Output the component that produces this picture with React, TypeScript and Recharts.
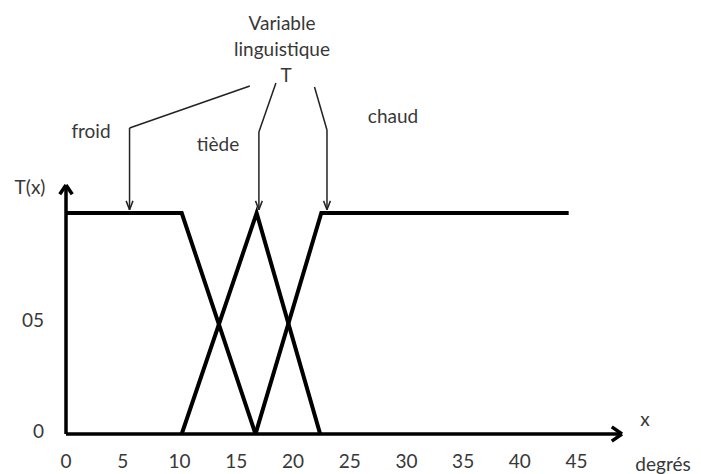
import { LineChart, Line, XAxis, YAxis, ReferenceLine } from 'recharts'

// membership functions (x in degrés, y = T(x))
const froid = [{ x: 0, y: 1 }, { x: 10.2, y: 1 }, { x: 16.7, y: 0 }]
const tiede = [{ x: 10.2, y: 0 }, { x: 16.8, y: 1 }, { x: 22.4, y: 0 }]
const chaud = [{ x: 16.7, y: 0 }, { x: 22.5, y: 1 }, { x: 44.3, y: 1 }]

const X_TICKS = [0, 5, 10, 15, 20, 25, 30, 35, 40, 45]
const X_LABELS = ['0', '5', '10', '15', '20', '25', '30', '35', '40', '45']
const Y_TICKS = [0, 0.5]
const Y_LABELS = ['0', '05']

// leader arrows from "Variable linguistique T" to each term (data units)
const LEADERS = [
  [{ x: 16.2, y: 1.575 }, { x: 5.6, y: 1.385 }, { x: 5.6, y: 1.015 }],
  [{ x: 18.5, y: 1.588 }, { x: 17.0, y: 1.367 }, { x: 17.0, y: 1.015 }],
  [{ x: 21.9, y: 1.57 }, { x: 23.0, y: 1.376 }, { x: 23.0, y: 1.015 }],
]

const FONT = 'Lato, "Open Sans", sans-serif'
const TXT = '#383838'

type P = { x: number; y: number }

function segs(pts: P[]) {
  const out: [P, P][] = []
  for (let i = 0; i < pts.length - 1; i++) out.push([pts[i], pts[i + 1]])
  const tip = pts[pts.length - 1]
  out.push([{ x: tip.x - 0.3, y: tip.y + 0.04 }, tip])
  out.push([{ x: tip.x + 0.3, y: tip.y + 0.04 }, tip])
  return out
}

const axisArrows: [P, P][] = [
  [{ x: 0, y: 0 }, { x: 0, y: 1.127 }],
  [{ x: -0.55, y: 1.085 }, { x: 0, y: 1.127 }],
  [{ x: 0.55, y: 1.085 }, { x: 0, y: 1.127 }],
  [{ x: 48.1, y: 0.032 }, { x: 49, y: 0 }],
  [{ x: 48.1, y: -0.032 }, { x: 49, y: 0 }],
]

const labels: { t: string; x: number; y: number }[] = [
  { t: 'Variable', x: 282, y: 22 },
  { t: 'linguistique', x: 282, y: 48 },
  { t: 'T', x: 286, y: 74 },
  { t: 'froid', x: 91, y: 130 },
  { t: 'tiède', x: 218, y: 143 },
  { t: 'chaud', x: 393, y: 115 },
  { t: 'T(x)', x: 30, y: 186 },
  { t: 'x', x: 645, y: 418 },
  { t: 'degrés', x: 663, y: 463 },
]

export default function App() {
  const tickStyle = { fill: TXT, fontSize: 19, fontFamily: FONT }
  return (
    <div style={{ position: 'absolute', left: 0, top: 0, width: 701, height: 474, background: '#fff' }}>
      <LineChart width={701} height={474} margin={{ top: 0, right: 79, bottom: 0, left: 0 }}>
        <XAxis
          type="number" dataKey="x" domain={[0, 49]} ticks={X_TICKS} allowDataOverflow
          tickFormatter={(v: number) => X_LABELS[X_TICKS.indexOf(v)] ?? ''}
          height={40} tickSize={0} tickMargin={21} tick={tickStyle}
          axisLine={{ stroke: '#000', strokeWidth: 3.5 }} tickLine={false}
        />
        <YAxis
          type="number" dataKey="y" domain={[0, 1.964]} ticks={Y_TICKS} allowDataOverflow
          tickFormatter={(v: number) => Y_LABELS[Y_TICKS.indexOf(v)] ?? ''}
          width={66} tickSize={0} tickMargin={22} tick={{ ...tickStyle, dy: -3 }}
          axisLine={false} tickLine={false}
        />
        {axisArrows.map((s, i) => (
          <ReferenceLine key={'a' + i} segment={s} stroke="#000" strokeWidth={3.5} ifOverflow="visible" />
        ))}
        {LEADERS.flatMap((l, j) => segs(l).map((s, i) => (
          <ReferenceLine key={`l${j}-${i}`} segment={s} stroke="#222" strokeWidth={1.5} ifOverflow="visible" />
        )))}
        <Line data={froid} dataKey="y" stroke="#000" strokeWidth={4} dot={false} isAnimationActive={false} />
        <Line data={tiede} dataKey="y" stroke="#000" strokeWidth={4} dot={false} isAnimationActive={false} />
        <Line data={chaud} dataKey="y" stroke="#000" strokeWidth={4} dot={false} isAnimationActive={false} />
      </LineChart>
      {labels.map((l) => (
        <div key={l.t} style={{
          position: 'absolute', left: l.x, top: l.y, transform: 'translate(-50%, -50%)',
          fontFamily: FONT, fontSize: 19, color: TXT, whiteSpace: 'nowrap', lineHeight: 1,
        }}>{l.t}</div>
      ))}
    </div>
  )
}
